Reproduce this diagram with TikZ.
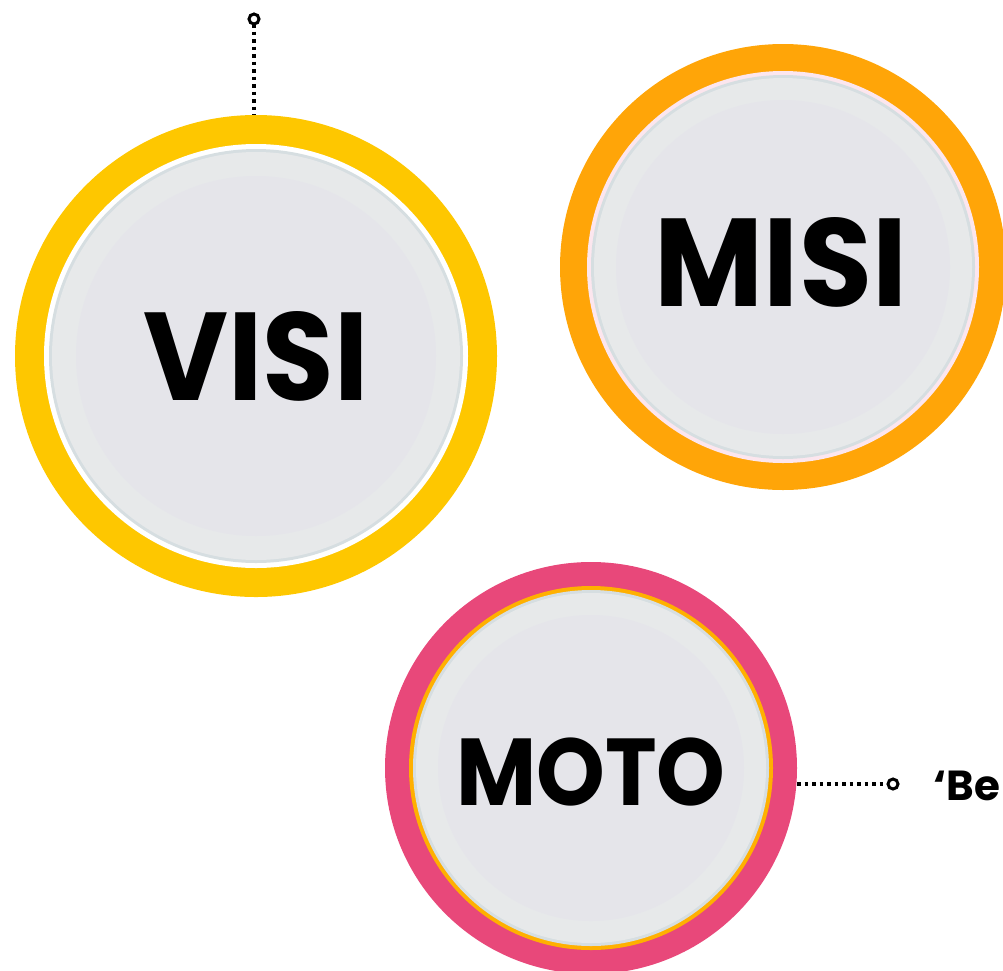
\documentclass[tikz,border=0pt]{standalone}
\usepackage{fontspec}
\setmainfont{Poppins}[BoldFont={* Bold}]
\usetikzlibrary{calc}
\definecolor{cyellow}{HTML}{FEC700}
\definecolor{corange}{HTML}{FFA508}
\definecolor{cpink}{HTML}{E8487A}
\definecolor{cthin}{HTML}{FFB000}
\definecolor{cdisc}{HTML}{E5E5EA}
\definecolor{cedge}{HTML}{D6DEE1}
\definecolor{cband}{HTML}{E7E9EA}
\definecolor{cblush}{HTML}{FCE6EE}
\tikzset{
  ring/.style={circle, inner sep=0pt, outer sep=0pt},
  lbl/.style={font=\bfseries, text=black, inner sep=0pt},
  conn/.style={line width=3.4pt, dash pattern=on 3.5pt off 4pt},
  pin/.style={circle, draw=black, fill=white, line width=3pt, minimum size=10pt, inner sep=0pt, outer sep=0pt},
}
\begin{document}
\begin{tikzpicture}[x=1pt,y=-1pt]
\useasboundingbox (0,0) rectangle (1003,970);
% VISI
\node[ring, fill=cyellow, minimum size=482pt] (visi) at (256,356) {};
\node[ring, fill=white, minimum size=424pt] (visigap) at (256,356) {};
\node[ring, fill=cedge, minimum size=414pt] (visiedge) at (256,356) {};
\node[ring, fill=cband, minimum size=408pt] (visiband) at (256,356) {};
\node[ring, fill=cdisc, minimum size=360pt] (visidisc) at (256,356) {};
\node[lbl, font=\fontsize{125}{125}\bfseries, xscale=0.93] (visit) at (256,356) {VISI};
% MISI
\node[ring, fill=corange, minimum size=446pt] (misi) at (783,267) {};
\node[ring, fill=cblush, minimum size=392pt] (misigap) at (783,267) {};
\node[ring, fill=cedge, minimum size=384pt] (misiedge) at (783,267) {};
\node[ring, fill=cband, minimum size=378pt] (misiband) at (783,267) {};
\node[ring, fill=cdisc, minimum size=334pt] (misidisc) at (783,267) {};
\node[lbl, font=\fontsize{125}{125}\bfseries, xscale=0.95] (misit) at (781,262) {MISI};
% MOTO
\node[ring, fill=cpink, minimum size=412pt] (moto) at (591,768) {};
\node[ring, fill=cthin, minimum size=364pt] (mototh) at (591,768) {};
\node[ring, fill=cedge, minimum size=356pt] (motoedge) at (591,768) {};
\node[ring, fill=cband, minimum size=350pt] (motoband) at (591,768) {};
\node[ring, fill=cdisc, minimum size=306pt] (motodisc) at (591,768) {};
\node[lbl, font=\fontsize{95}{95}\bfseries, xscale=0.92] (motot) at (591,772) {MOTO};
% connectors
\node[pin] (p1) at (254,19) {};
\draw[conn] (p1.south) -- (p1.south |- visi.north);
\node[pin] (p2) at (893,784) {};
\draw[conn] (moto.east |- p2) -- (p2.west);
\node[lbl, font=\fontsize{42}{42}\bfseries, anchor=base west] (be) at (933,800) {‘Be};
\end{tikzpicture}
\end{document}
